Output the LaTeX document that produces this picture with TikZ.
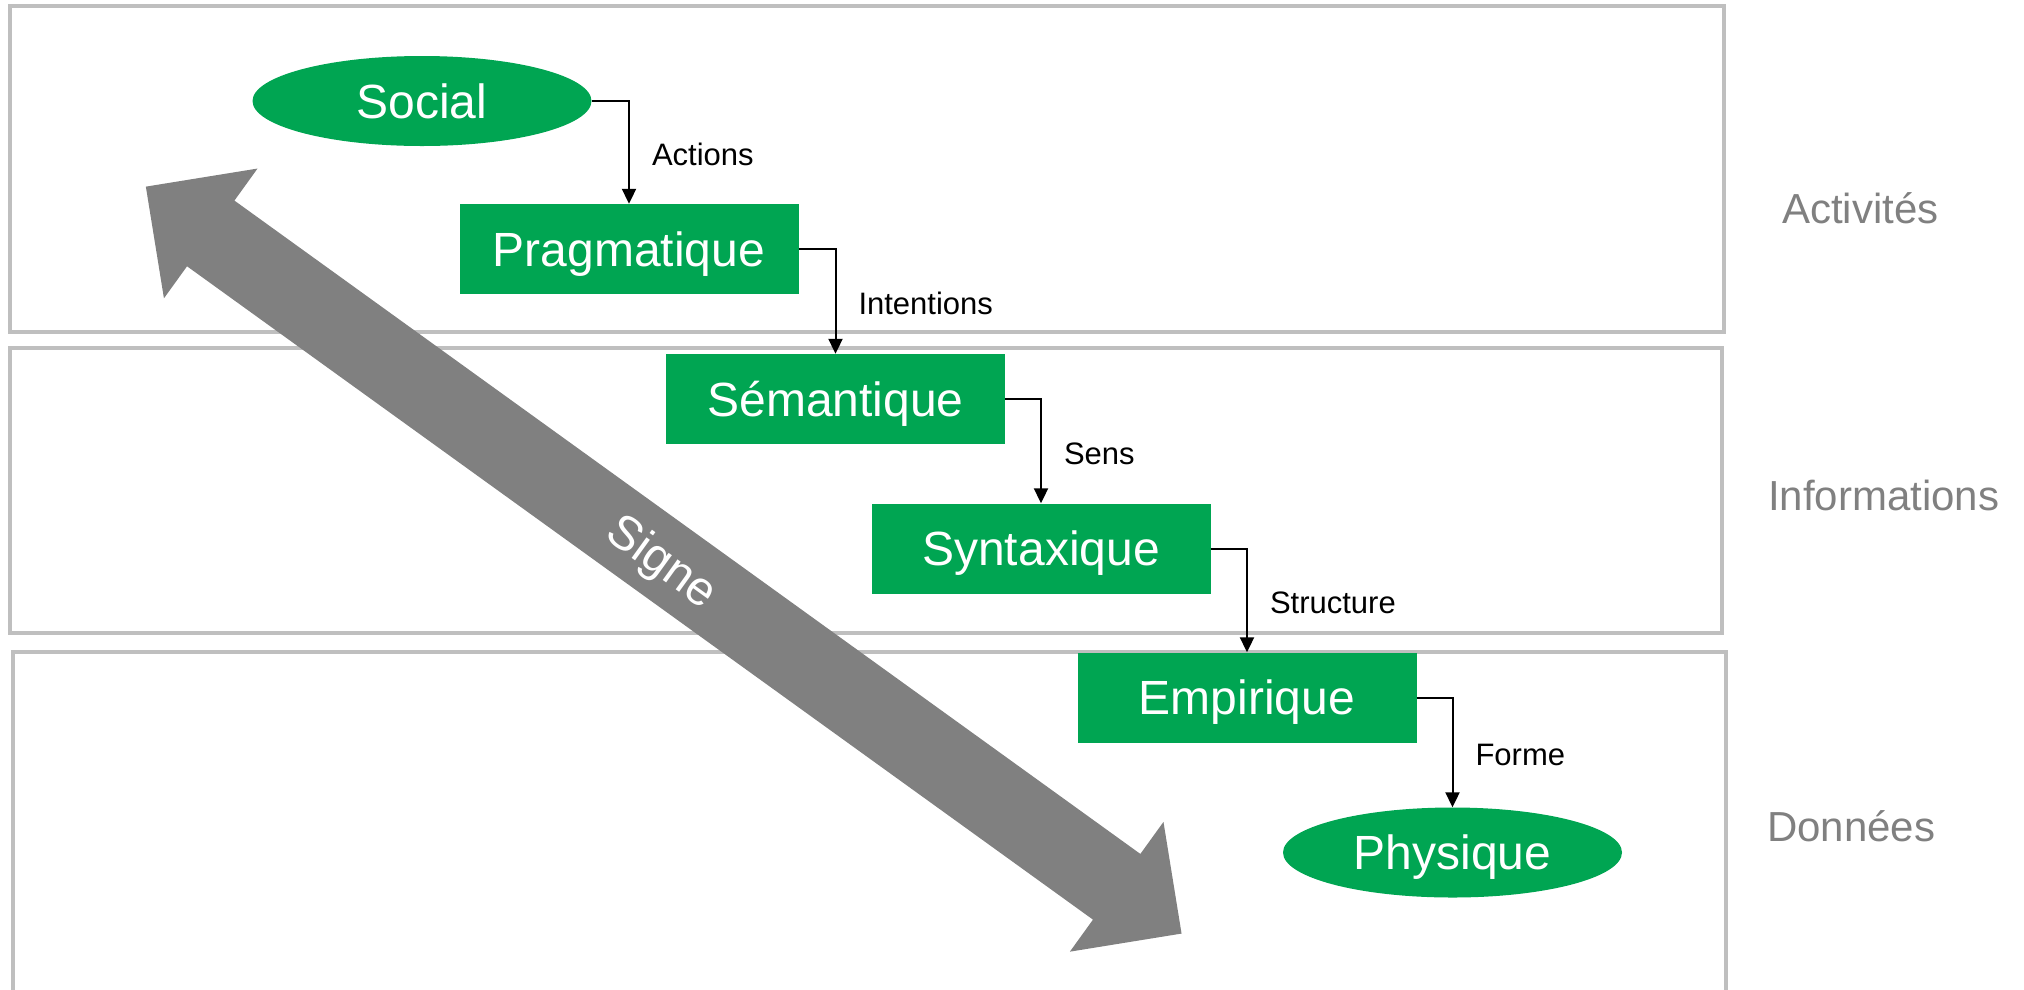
\documentclass[tikz,border=0pt]{standalone}
\usepackage{fontspec}
\setmainfont{Liberation Sans}
\usetikzlibrary{shapes.geometric,arrows.meta}
\definecolor{leafgreen}{RGB}{0,165,82}
\definecolor{bandgray}{RGB}{191,191,191}
\definecolor{labelgray}{RGB}{128,128,128}
\definecolor{signgray}{RGB}{128,128,128}

\begin{document}
\begin{tikzpicture}[x=1pt,y=-1pt,
  band/.style={draw=bandgray, line width=3.5pt},
  layerlabel/.style={anchor=west, inner sep=0pt, text=labelgray,
    font=\fontsize{42}{50}\selectfont, text height=30pt, text depth=0pt},
  levelbox/.style={rectangle, fill=leafgreen, text=white, inner sep=0pt,
    minimum width=339pt, minimum height=90pt,
    font=\fontsize{48}{58}\selectfont, text height=34pt, text depth=0pt},
  levelend/.style={levelbox, ellipse},
  flow/.style={draw=black, line width=2pt, -{Triangle[length=15pt,width=14pt]}},
  flowlabel/.style={anchor=west, inner sep=0pt, xshift=22pt, yshift=-2pt,
    font=\fontsize{31}{37}\selectfont, text height=22pt, text depth=0pt}
]
\useasboundingbox (0,0) rectangle (2024,989);

% the three layers
\draw[band] (10,6) rectangle (1724,332);
\draw[band] (10,348) rectangle (1722,633);
\draw[band] (13,652) rectangle (1726,1010);

\node[layerlabel] (activites) at (1782,208) {Activités};
\node[layerlabel] (informations) at (1768,495) {Informations};
\node[layerlabel] (donnees) at (1767,826) {Données};

% the double-headed sign arrow
\begin{scope}[shift={(663.7,560.1)}, rotate=-35.8]
  \fill[signgray] (-638.5,0) -- (-558.5,-80) -- (-558.5,-40.5) -- (558.5,-40.5)
    -- (558.5,-80) -- (638.5,0) -- (558.5,80) -- (558.5,40.5)
    -- (-558.5,40.5) -- (-558.5,80) -- cycle;
\end{scope}
\node[rotate=-35.8, text=white, inner sep=0pt,
  font=\fontsize{48}{58}\selectfont, text height=34pt, text depth=0pt]
  (signe) at (663.7,560.1) {Signe};

% the semiotic levels
\node[levelend] (social) at (422,101) {Social};
\node[levelbox] (prag) at (629,249) {Pragmatique};
\node[levelbox] (sem) at (835.5,399) {Sémantique};
\node[levelbox] (syn) at (1041,548.5) {Syntaxique};
\node[levelbox] (emp) at (1247,697.5) {Empirique};
\node[levelend] (phys) at (1452.5,852.5) {Physique};

% links between the levels
\draw[flow] (social.east) -| node[flowlabel, pos=0.75] {Actions} (prag.north);
\draw[flow] (prag.east) -| node[flowlabel, pos=0.75] {Intentions} (sem.north);
\draw[flow] (sem.east) -| node[flowlabel, pos=0.75] {Sens} (syn.north);
\draw[flow] (syn.east) -| node[flowlabel, pos=0.75] {Structure} (emp.north);
\draw[flow] (emp.east) -| node[flowlabel, pos=0.75] {Forme} (phys.north);
\end{tikzpicture}
\end{document}
